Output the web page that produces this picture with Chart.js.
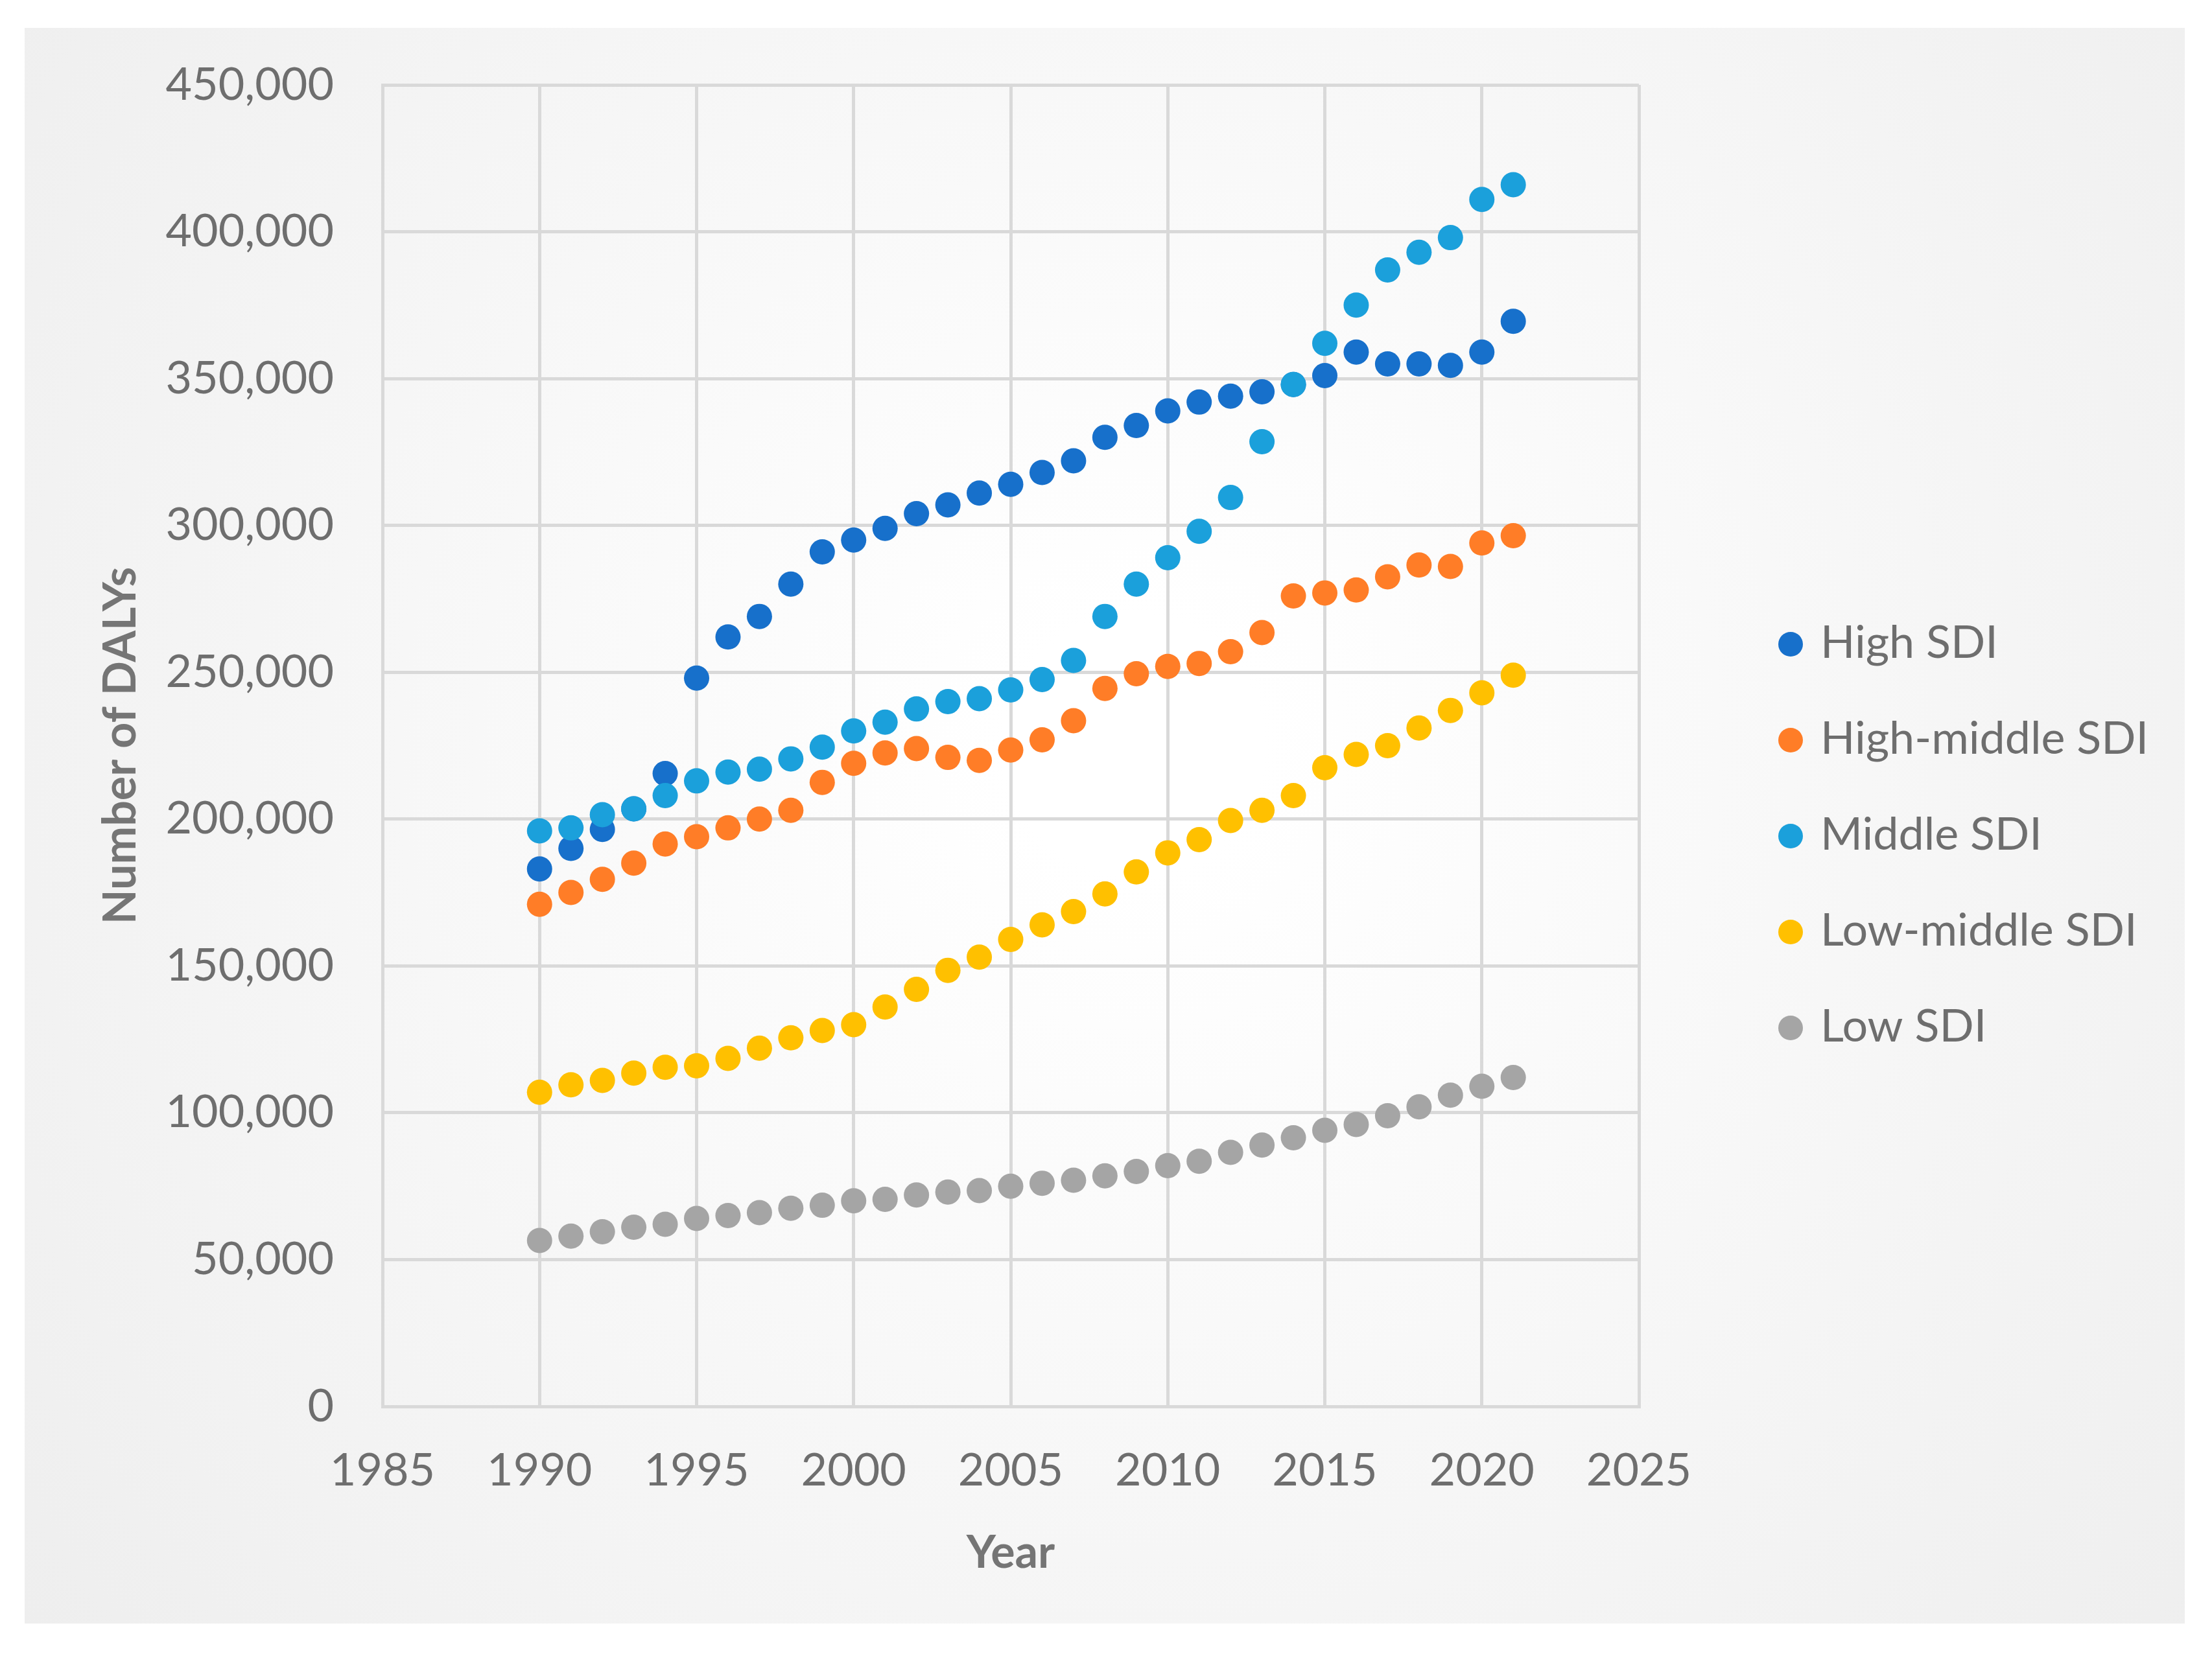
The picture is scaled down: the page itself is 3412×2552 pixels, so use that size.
<!DOCTYPE html>
<html>
<head>
<meta charset="utf-8">
<script src="https://cdn.jsdelivr.net/npm/chart.js@4/dist/chart.umd.min.js"></script>
<style>
  html, body { margin: 0; padding: 0; background: #ffffff; }
  #wrap { position: relative; width: 3412px; height: 2552px; }
  canvas { display: block; }
</style>
</head>
<body>
<div id="wrap">
  <canvas id="dalyChart" width="3412" height="2552"></canvas>
</div>
<script>
const years = [1990, 1991, 1992, 1993, 1994, 1995, 1996, 1997, 1998, 1999, 2000, 2001, 2002, 2003, 2004, 2005,
  2006, 2007, 2008, 2009, 2010, 2011, 2012, 2013, 2014, 2015, 2016, 2017, 2018, 2019, 2020, 2021];

const seriesNames = ['High SDI', 'High-middle SDI', 'Middle SDI', 'Low-middle SDI', 'Low SDI'];
const seriesColors = ['#1770CB', '#FF7D27', '#1BA0DB', '#FFC000', '#A5A5A5'];

const highSDI = [183000, 190000, 196500, 203500, 215500, 248000, 262000, 269000, 280000, 291000, 295000, 299000,
  304000, 307000, 311000, 314000, 318000, 322000, 330000, 334000, 339000, 342000, 344000, 345500, 348000, 351000,
  359000, 355000, 355000, 354500, 359000, 369500];
const highMiddleSDI = [171000, 175000, 179500, 185000, 191500, 194000, 197000, 200000, 203000, 212500, 219000,
  222500, 224000, 221000, 220000, 223500, 227000, 233500, 244500, 249500, 252000, 253000, 257000, 263500, 276000,
  277000, 278000, 282500, 286500, 286000, 294000, 296500];
const middleSDI = [196000, 197000, 201500, 203500, 208000, 213000, 216000, 217000, 220500, 224500, 230000, 233000,
  237500, 240000, 241000, 244000, 247500, 254000, 269000, 280000, 289000, 298000, 309500, 328500, 348000, 362000,
  375000, 387000, 393000, 398000, 411000, 416000];
const lowMiddleSDI = [107000, 109500, 111000, 113500, 115500, 116000, 118500, 122000, 125500, 128000, 130000, 136000,
  142000, 148500, 153000, 159000, 164000, 168500, 174500, 182000, 188500, 193000, 199500, 203000, 208000, 217500,
  222000, 225000, 231000, 237000, 243000, 249000];
const lowSDI = [56500, 58000, 59500, 61000, 62000, 64000, 65000, 66000, 67500, 68500, 70000, 70500, 72000, 73000,
  73500, 75000, 76000, 77000, 78500, 80000, 82000, 83500, 86500, 89000, 91500, 94000, 96000, 99000, 102000, 106000,
  109000, 112000];

const xTicks = [1985, 1990, 1995, 2000, 2005, 2010, 2015, 2020, 2025];
const yTicks = [0, 50000, 100000, 150000, 200000, 250000, 300000, 350000, 400000, 450000];

const allSeries = [highSDI, highMiddleSDI, middleSDI, lowMiddleSDI, lowSDI];

const TEXT_GREY = '#6e6e6e';
const GRID_GREY = '#d9d9d9';
const FONT = 'Lato, "Open Sans", sans-serif';

// grey panel behind the whole chart
const panelBackground = {
  id: 'panelBackground',
  beforeDraw(chart) {
    const ctx = chart.ctx;
    const g = ctx.createRadialGradient(1750, 1150, 200, 1750, 1150, 2300);
    g.addColorStop(0, '#ffffff');
    g.addColorStop(1, '#ededed');
    ctx.save();
    ctx.fillStyle = g;
    ctx.fillRect(38, 43, 3332, 2462);
    ctx.restore();
  }
};

// legend on the right, one dot + label per series
const sideLegend = {
  id: 'sideLegend',
  afterDraw(chart) {
    const ctx = chart.ctx;
    ctx.save();
    ctx.font = '70px ' + FONT;
    ctx.textBaseline = 'alphabetic';
    ctx.textAlign = 'left';
    chart.data.datasets.forEach((ds, i) => {
      const y = 994 + i * 148;
      ctx.beginPath();
      ctx.fillStyle = ds.backgroundColor;
      ctx.arc(2762, y, 19, 0, Math.PI * 2);
      ctx.fill();
      ctx.fillStyle = TEXT_GREY;
      ctx.fillText(ds.label, 2808, y + 21);
    });
    ctx.restore();
  }
};

const datasets = seriesNames.map((name, i) => ({
  label: name,
  data: years.map((yr, j) => ({ x: yr, y: allSeries[i][j] })),
  backgroundColor: seriesColors[i],
  borderColor: seriesColors[i],
  borderWidth: 0,
  pointRadius: 19.5,
  pointHoverRadius: 19.5,
  order: seriesNames.length - i
}));

const ctx = document.getElementById('dalyChart').getContext('2d');
new Chart(ctx, {
  type: 'scatter',
  data: { datasets: datasets },
  options: {
    responsive: false,
    animation: false,
    devicePixelRatio: 1,
    layout: { padding: { left: 0, right: 884, top: 131, bottom: 0 } },
    plugins: {
      legend: { display: false },
      tooltip: { enabled: false }
    },
    scales: {
      x: {
        type: 'linear',
        min: 1985,
        max: 2025,
        afterBuildTicks: (scale) => { scale.ticks = xTicks.map(v => ({ value: v })); },
        afterFit: (scale) => { scale.height = 382; },
        ticks: {
          padding: 57,
          color: TEXT_GREY,
          font: { family: FONT, size: 70 },
          callback: (v) => String(v)
        },
        grid: { color: GRID_GREY, lineWidth: 5, drawTicks: false },
        border: { display: true, color: GRID_GREY, width: 5 },
        title: {
          display: true,
          text: 'Year',
          color: '#757575',
          font: { family: FONT, size: 70, weight: 'bold' },
          padding: { top: 0, bottom: 114 }
        }
      },
      y: {
        type: 'linear',
        min: 0,
        max: 450000,
        afterBuildTicks: (scale) => { scale.ticks = yTicks.map(v => ({ value: v })); },
        afterFit: (scale) => { scale.width = 590; },
        ticks: {
          padding: 75,
          color: TEXT_GREY,
          font: { family: FONT, size: 70 },
          callback: (v) => v.toLocaleString('en-US')
        },
        grid: { color: GRID_GREY, lineWidth: 5, drawTicks: false },
        border: { display: true, color: GRID_GREY, width: 5 },
        title: {
          display: true,
          text: 'Number of DALYs',
          color: '#757575',
          font: { family: FONT, size: 70, weight: 'bold' },
          padding: { top: 144, bottom: 0 }
        }
      }
    }
  },
  plugins: [panelBackground, sideLegend]
});
</script>
</body>
</html>
